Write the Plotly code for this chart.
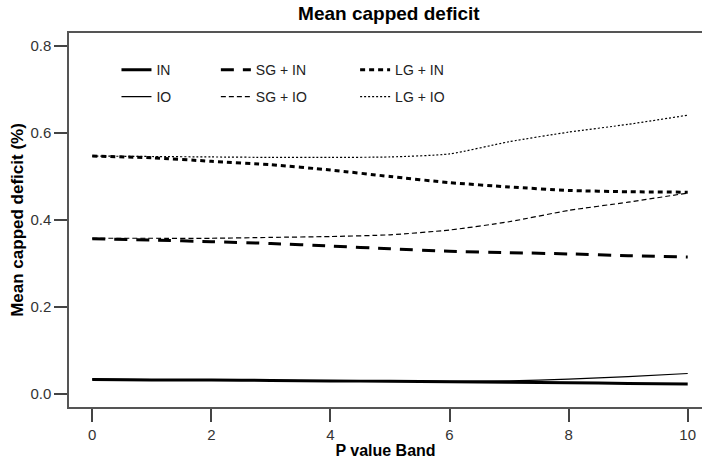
import plotly.graph_objects as go

p_band = [0, 1, 2, 3, 4, 5, 6, 7, 8, 9, 10]

in_vals    = [0.033, 0.032, 0.032, 0.031, 0.030, 0.029, 0.028, 0.027, 0.026, 0.024, 0.023]
io_vals    = [0.034, 0.033, 0.032, 0.031, 0.030, 0.030, 0.029, 0.030, 0.034, 0.040, 0.047]
sg_in_vals = [0.357, 0.354, 0.350, 0.346, 0.340, 0.334, 0.328, 0.325, 0.322, 0.318, 0.315]
sg_io_vals = [0.358, 0.358, 0.358, 0.360, 0.362, 0.366, 0.377, 0.396, 0.422, 0.441, 0.462]
lg_in_vals = [0.547, 0.543, 0.535, 0.527, 0.515, 0.500, 0.486, 0.476, 0.468, 0.465, 0.464]
lg_io_vals = [0.547, 0.546, 0.545, 0.544, 0.544, 0.545, 0.552, 0.580, 0.602, 0.620, 0.641]

x_ticks = [0, 2, 4, 6, 8, 10]
y_ticks = [0.0, 0.2, 0.4, 0.6, 0.8]
y_labels = ["0.0", "0.2", "0.4", "0.6", "0.8"]

# name, values, width, dash, legend id, legend column x, legend row y
series = [
    ("IN", in_vals, 3, "solid", "legend", 0.075, 0.901),
    ("SG + IN", sg_in_vals, 3, "13px,9px", "legend2", 0.232, 0.901),
    ("LG + IN", lg_in_vals, 3, "5px,4px", "legend3", 0.452, 0.901),
    ("IO", io_vals, 1.2, "solid", "legend4", 0.075, 0.829),
    ("SG + IO", sg_io_vals, 1.2, "5px,3px", "legend5", 0.232, 0.829),
    ("LG + IO", lg_io_vals, 1.2, "2px,2px", "legend6", 0.452, 0.829),
]

font_family = "Liberation Sans, Arial, sans-serif"

fig = go.Figure()
legends = {}
for name, vals, w, dash, leg, lx, ly in series:
    fig.add_trace(go.Scatter(
        x=p_band, y=vals, mode="lines", name=name,
        line=dict(color="black", width=w, dash=dash, shape="spline", smoothing=0.6),
        legend=leg, showlegend=True,
    ))
    legends[leg] = dict(
        x=lx, y=ly, xanchor="left", yanchor="middle", orientation="h",
        bgcolor="rgba(0,0,0,0)", borderwidth=0,
        font=dict(family=font_family, size=14, color="#222"),
    )

fig.update_layout(
    width=702, height=461, showlegend=True,
    margin=dict(l=69, r=0, t=33, b=54),
    paper_bgcolor="white", plot_bgcolor="white",
    font=dict(family=font_family, size=15, color="#333"),
    title=dict(text="<b>Mean capped deficit</b>", x=0.554, xanchor="center",
               y=0.972, yanchor="middle", font=dict(size=19, color="black")),
    xaxis=dict(
        range=[-0.39, 10.24], tickvals=x_ticks, ticks="outside", ticklen=13,
        tickwidth=1.5, tickcolor="#444", showline=True, linecolor="#555",
        linewidth=1.5, mirror=True, showgrid=False, zeroline=False,
        automargin=False,
        tickfont=dict(size=15, color="#333"),
        title=dict(text="<b>P value Band</b>", standoff=3,
                   font=dict(size=16, color="black")),
    ),
    yaxis=dict(
        range=[-0.03, 0.83], tickvals=y_ticks, ticktext=y_labels,
        ticks="outside", ticklen=13, tickwidth=1.5, tickcolor="#444",
        showline=True, linecolor="#555", linewidth=1.5, showgrid=False,
        zeroline=False, automargin=False, tickfont=dict(size=15, color="#333"),
        title=dict(text="<b>Mean capped deficit (%)</b>", standoff=2,
                   font=dict(size=17, color="black")),
    ),
    **legends,
)

fig.write_html("out.html", config={"displayModeBar": False})

# remove the browser's default page margin so the figure fills the window
with open("out.html", "r", encoding="utf-8") as f:
    html = f.read()
html = html.replace("<head>", "<head><style>html,body{margin:0;padding:0;}</style>", 1)
with open("out.html", "w", encoding="utf-8") as f:
    f.write(html)
